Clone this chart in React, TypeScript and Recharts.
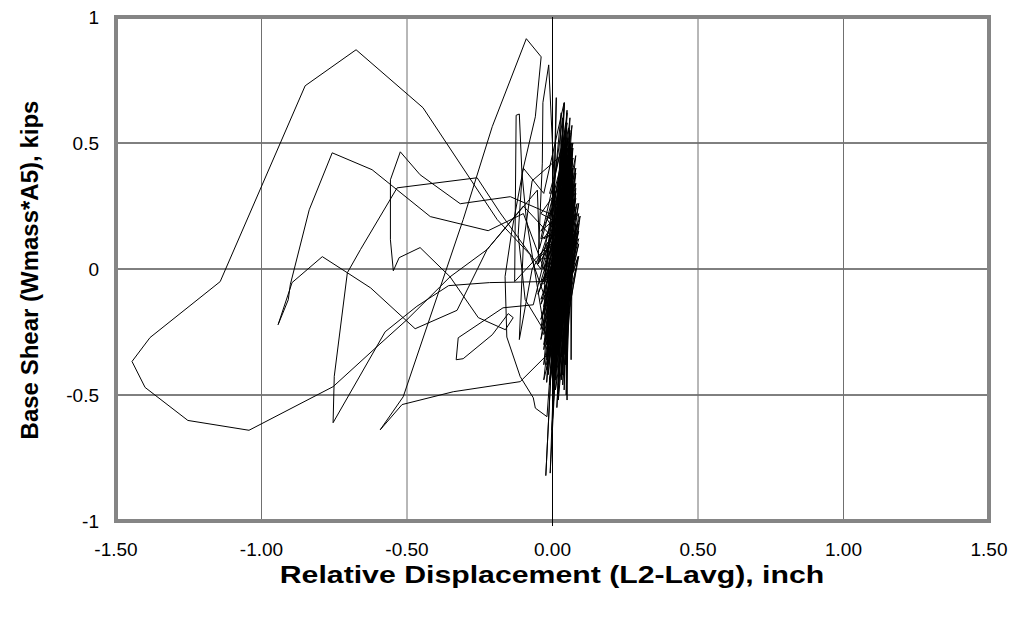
import React from 'react';
import {
  ScatterChart,
  Scatter,
  XAxis,
  YAxis,
  CartesianGrid,
  ReferenceLine,
  ReferenceArea,
} from 'recharts';

type Pt = [number, number];

// Displacement (inch), base shear (kips) pairs, in drawing order.
const clusterOpen: Pt[] = [
  [0.0, 0.0], [0.02, 0.18], [-0.01, -0.12], [0.03, 0.25], [0.0, -0.2], [0.05, 0.35],
  [-0.02, -0.28], [0.06, 0.42], [-0.01, -0.33], [0.07, 0.3], [-0.03, -0.15], [0.04, 0.5],
  [0.01, -0.4], [0.08, 0.22], [-0.04, 0.05],
];

const spikeNearZero: Pt[] = [
  [-0.05, 0.02], [-0.035, 0.42], [-0.033, 0.66], [-0.013, 0.81], [0.01, 0.25], [-0.02, -0.45],
];

const clusterA: Pt[] = [
  [0.05, 0.48], [0.0, -0.3], [0.04, 0.4], [-0.02, -0.22], [0.06, 0.55], [0.01, -0.38],
  [0.07, 0.33], [-0.03, -0.1], [0.03, 0.62], [0.0, -0.45], [0.08, 0.18], [-0.04, 0.12],
  [0.05, 0.58], [-0.01, -0.35], [0.06, 0.45], [0.02, -0.28], [0.09, 0.1], [-0.02, -0.4],
  [0.04, 0.66], [-0.03, 0.3],
];

const leftFringe: Pt[] = [
  [-0.1, 0.4], [-0.14, 0.15], [-0.163, -0.03], [-0.157, -0.27], [-0.111, -0.427],
  [-0.066, -0.511], [-0.059, -0.552], [-0.019, -0.586], [0.03, 0.2],
];

const loopMid: Pt[] = [
  [-0.145, 0.287], [-0.317, 0.259], [-0.455, 0.374], [-0.523, 0.465], [-0.557, 0.354],
  [-0.557, 0.116], [-0.547, -0.007], [-0.527, 0.045], [-0.455, 0.085], [-0.352, -0.031],
  [-0.255, -0.193], [-0.162, -0.241], [-0.135, -0.193], [-0.152, -0.177], [-0.207, -0.261],
  [-0.307, -0.356], [-0.331, -0.36], [-0.324, -0.273], [-0.17, -0.154], [-0.066, -0.142],
];

const clusterB: Pt[] = [
  [0.07, 0.5], [-0.03, -0.32], [0.05, 0.3], [0.0, -0.52], [0.08, 0.38], [-0.01, -0.15],
  [0.06, 0.6], [0.03, -0.42], [0.09, 0.22], [-0.02, 0.05], [0.04, 0.52], [-0.01, 0.3],
];

const clusterG: Pt[] = [
  [0.06, 0.32], [-0.03, -0.22], [0.08, 0.12], [-0.04, -0.05], [0.07, 0.38], [0.0, -0.36],
  [0.09, 0.15], [-0.01, -0.18], [0.05, 0.42], [-0.04, -0.28], [0.08, 0.28], [0.01, -0.33],
  [0.06, 0.2], [-0.05, 0.02], [0.07, 0.44], [0.02, -0.4], [0.09, 0.05], [-0.03, -0.3],
  [0.05, 0.36], [-0.02, -0.12], [0.08, 0.4], [0.0, -0.42], [0.06, 0.14], [-0.04, -0.2],
  [0.07, 0.26], [0.02, -0.3], [0.085, 0.18], [-0.02, -0.26], [0.04, 0.46], [-0.045, 0.08],
];

const outerLoop: Pt[] = [
  [-0.052, 0.313], [-0.225, 0.077], [-0.352, -0.031], [-0.5, -0.201], [-0.603, -0.308],
  [-0.754, -0.467], [-1.043, -0.64], [-1.253, -0.601], [-1.4, -0.47], [-1.445, -0.367],
  [-1.383, -0.272], [-1.142, -0.05], [-0.85, 0.727], [-0.675, 0.87], [-0.445, 0.64],
  [-0.19, 0.196], [-0.077, 0.057], [0.0, -0.2],
];

const clusterC: Pt[] = [
  [0.07, 0.4], [0.02, -0.25], [0.06, 0.25], [-0.03, -0.38], [0.05, 0.63], [0.01, -0.3],
  [0.08, 0.45], [-0.02, -0.1], [0.04, 0.35], [-0.04, 0.22],
];

const clusterJ: Pt[] = [
  [0.07, 0.15], [-0.02, -0.1], [0.08, 0.22], [-0.01, -0.15], [0.06, 0.12], [-0.03, -0.06],
  [0.085, 0.26], [0.0, -0.2], [0.075, 0.05], [-0.035, 0.04], [0.065, 0.3], [0.01, -0.25],
  [0.09, 0.12], [-0.02, -0.02], [0.06, 0.34], [0.02, -0.3], [0.08, 0.0], [-0.04, -0.12],
  [0.07, 0.24], [0.03, -0.28], [0.05, 0.16], [-0.03, 0.12], [0.08, 0.32], [0.04, -0.34],
  [0.06, 0.06], [-0.02, 0.2], [0.07, 0.4], [0.035, -0.42], [0.055, 0.28], [-0.01, -0.06],
];

const secondLoop: Pt[] = [
  [-0.1, 0.22], [-0.221, 0.152], [-0.42, 0.208], [-0.62, 0.394], [-0.757, 0.461],
  [-0.836, 0.235], [-0.901, -0.062], [-0.908, -0.122], [-0.943, -0.221], [-0.895, -0.054],
  [-0.791, 0.049], [-0.705, -0.015], [-0.625, -0.075], [-0.472, -0.237], [-0.328, -0.164],
  [-0.225, 0.077], [-0.1, 0.25], [0.02, 0.1],
];

const clusterH: Pt[] = [
  [0.03, 0.32], [0.01, -0.44], [0.07, 0.2], [-0.03, -0.18], [0.06, 0.48], [0.03, -0.22],
  [0.09, 0.26], [-0.02, -0.38], [0.05, 0.24], [-0.04, 0.15], [0.06, 0.36], [0.0, -0.16],
  [0.08, 0.08], [-0.03, -0.44], [0.04, 0.3], [0.02, -0.5], [0.07, 0.48], [-0.01, -0.24],
  [0.05, 0.18], [-0.05, -0.1], [0.08, 0.34], [0.01, -0.36], [0.06, 0.1], [-0.02, -0.3],
  [0.04, 0.4], [0.03, -0.12], [0.07, 0.22], [-0.03, -0.26], [0.05, 0.52], [0.0, -0.2],
];

const clusterD: Pt[] = [
  [0.013, 0.68], [-0.01, -0.3], [0.041, 0.66], [0.0, -0.45], [0.067, 0.57], [-0.02, -0.2],
  [0.095, 0.21], [0.03, -0.35], [0.088, 0.05], [-0.018, -0.34],
];

const steepLoop: Pt[] = [
  [-0.111, -0.447], [-0.341, -0.487], [-0.517, -0.538], [-0.592, -0.638], [-0.513, -0.507],
  [-0.307, 0.196], [-0.207, 0.565], [-0.09, 0.914], [-0.039, 0.842], [-0.059, 0.604],
  [-0.104, 0.382], [-0.118, 0.136], [-0.094, -0.121], [0.0, -0.3],
];

const clusterK: Pt[] = [
  [0.05, 0.1], [0.04, -0.48], [0.06, 0.2], [0.03, -0.44], [0.07, 0.08], [0.0, -0.5],
  [0.05, 0.26], [0.045, -0.38], [0.08, 0.16], [-0.01, -0.44], [0.06, 0.0], [0.02, -0.52],
  [0.04, 0.22], [0.05, -0.3], [0.07, 0.3], [0.01, -0.48], [0.065, -0.05], [-0.02, -0.36],
  [0.05, 0.32], [0.035, -0.46], [0.075, 0.12], [0.0, -0.3],
];

const clusterE: Pt[] = [
  [0.03, 0.4], [-0.023, -0.82], [0.03, 0.42], [-0.008, -0.81], [0.05, 0.48], [0.047, -0.5],
  [0.07, 0.35], [0.064, -0.36], [0.06, 0.5], [0.05, -0.52], [0.04, 0.35], [-0.03, -0.05],
];

const lowerLoop: Pt[] = [
  [-0.216, -0.054], [-0.357, -0.066], [-0.466, -0.148], [-0.575, -0.249], [-0.754, -0.61],
  [-0.75, -0.426], [-0.705, -0.015], [-0.66, 0.077], [-0.534, 0.322], [-0.259, 0.362],
  [-0.18, 0.223], [-0.04, 0.0],
];

const clusterL: Pt[] = [
  [0.055, 0.56], [0.02, 0.0], [0.065, 0.5], [0.03, 0.1], [0.05, 0.62], [0.01, 0.05],
  [0.07, 0.44], [0.0, 0.15], [0.045, 0.58], [0.025, -0.05], [0.06, 0.54], [-0.01, 0.2],
  [0.035, 0.6], [0.04, 0.0], [0.068, 0.48], [0.0, -0.1], [0.05, 0.5], [0.02, 0.12],
];

const clusterF: Pt[] = [
  [0.05, 0.45], [-0.002, -0.64], [0.05, 0.45], [0.015, -0.55], [0.06, 0.38], [0.0, -0.25],
  [0.035, 0.55], [-0.02, -0.35], [0.06, 0.42], [0.01, -0.4], [-0.02, 0.1],
];

const clusterI: Pt[] = [
  [0.08, 0.24], [-0.01, -0.46], [0.06, 0.28], [-0.04, -0.14], [0.09, 0.18], [0.02, -0.34],
  [0.05, 0.4], [-0.03, 0.0], [0.07, 0.3], [0.0, -0.4], [0.06, 0.52], [-0.02, -0.18],
  [0.08, 0.14], [0.01, -0.28], [0.04, 0.44], [-0.04, -0.24], [0.07, 0.16], [0.02, -0.46],
  [0.05, 0.34], [-0.01, 0.1],
];

const narrowSpike: Pt[] = [
  [-0.13, -0.05], [-0.125, 0.61], [-0.114, 0.615], [-0.105, 0.38], [-0.09, 0.2],
  [-0.02, -0.3], [0.03, 0.45], [-0.07, 0.35], [-0.1, 0.1], [-0.114, -0.28], [-0.07, 0.0],
];

const clusterClose: Pt[] = [
  [0.075, 0.28], [-0.03, -0.05], [0.045, 0.5], [0.005, -0.3], [0.065, 0.46], [-0.015, -0.42],
  [0.055, 0.36], [0.02, -0.18], [0.08, 0.3], [-0.01, -0.28], [0.03, 0.2], [0.0, 0.0],
];

const segments: Pt[][] = [
  clusterOpen, spikeNearZero, clusterA, leftFringe, loopMid, clusterB, clusterG, outerLoop,
  clusterC, clusterJ, secondLoop, clusterH, clusterD, steepLoop, clusterK, clusterE, lowerLoop,
  clusterL, clusterF, clusterI, narrowSpike, clusterClose,
];

const xTicks = [-1.5, -1, -0.5, 0, 0.5, 1, 1.5];
const yTicks = [-1, -0.5, 0, 0.5, 1];
const xTitle = 'Relative Displacement (L2-Lavg), inch';
const yTitle = 'Base Shear (Wmass*A5), kips';

const data = segments.flat().map(([x, y]) => ({ x, y }));

const font = '"Liberation Sans", Arial, sans-serif';

const XTick = (props: any) => {
  const { x, y, payload } = props;
  return (
    <text x={x} y={y} dy="0.71em" textAnchor="middle" fontSize={19} fill="#000" fontFamily={font}>
      {Number(payload.value).toFixed(2)}
    </text>
  );
};

const YTick = (props: any) => {
  const { x, y, payload } = props;
  return (
    <text x={x} y={y} dy="0.355em" textAnchor="end" fontSize={19} fill="#000" fontFamily={font}>
      {String(payload.value)}
    </text>
  );
};

export default function App() {
  return (
    <div style={{ position: 'relative', width: 1010, height: 612, fontFamily: font }}>
      <ScatterChart
        width={1010}
        height={612}
        margin={{ top: 9, right: 29, bottom: 0, left: 0 }}
        style={{ fontFamily: font }}
      >
        <CartesianGrid horizontal vertical={false} stroke="#000" strokeWidth={1} />
        <CartesianGrid horizontal={false} vertical stroke="#707070" strokeWidth={1} />
        <XAxis
          type="number"
          dataKey="x"
          domain={[-1.5, 1.5]}
          ticks={xTicks}
          axisLine={false}
          tickLine={false}
          tickSize={6}
          tickMargin={16}
          height={99}
          allowDataOverflow
          tick={<XTick />}
        />
        <YAxis
          type="number"
          dataKey="y"
          domain={[-1, 1]}
          ticks={yTicks}
          axisLine={false}
          tickLine={false}
          tickSize={6}
          tickMargin={11}
          width={108}
          allowDataOverflow
          tick={<YTick />}
        />
        <ReferenceLine
          segment={[{ x: 0, y: -1.02 }, { x: 0, y: 1.0 }]}
          stroke="#000"
          strokeWidth={1}
          ifOverflow="visible"
        />
        <Scatter
          data={data}
          line={{ stroke: '#000', strokeWidth: 1 }}
          lineType="joint"
          shape={() => <g />}
          isAnimationActive={false}
        />
        <ReferenceArea
          x1={-1.5}
          x2={1.5}
          y1={-1}
          y2={1}
          fill="none"
          fillOpacity={0}
          stroke="#858585"
          strokeWidth={4}
        />
      </ScatterChart>
      <div
        style={{
          position: 'absolute',
          left: 544,
          top: 567,
          transform: 'translate(-50%, -50%) scaleX(1.26)',
          whiteSpace: 'nowrap',
          fontWeight: 'bold',
          fontSize: 24,
          lineHeight: '20px',
          color: '#000',
        }}
      >
        {xTitle}
      </div>
      <div
        style={{
          position: 'absolute',
          left: 22,
          top: 262,
          transform: 'translate(-50%, -50%) rotate(-90deg)',
          whiteSpace: 'nowrap',
          fontWeight: 'bold',
          fontSize: 24,
          lineHeight: '20px',
          color: '#000',
        }}
      >
        {yTitle}
      </div>
    </div>
  );
}
